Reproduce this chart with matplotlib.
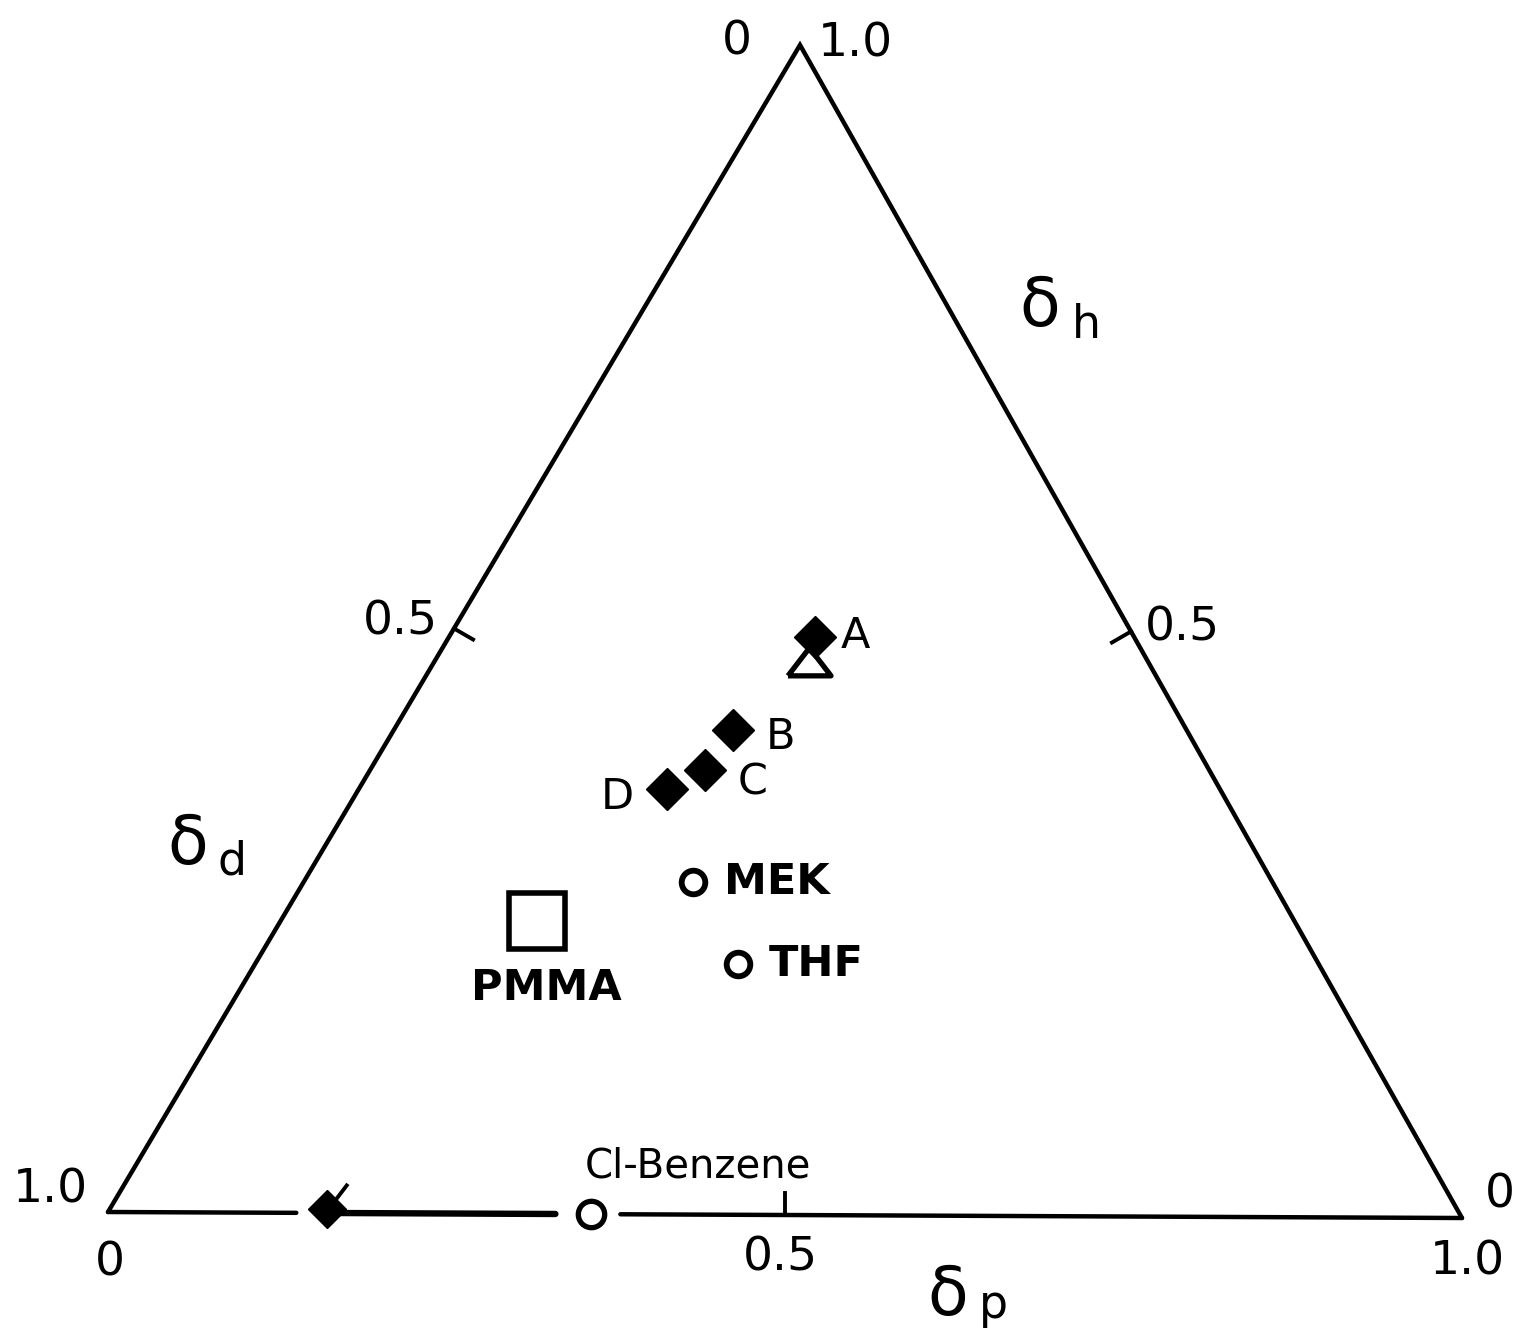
"""
Ternary diagram of fractional solubility parameters (delta_d, delta_p, delta_h)
for PMMA, solvents and blends A-D.
"""

import numpy as np
import matplotlib

matplotlib.use("Agg")
import matplotlib.pyplot as plt

BLACK = "black"
plt.rcParams["font.family"] = ["DejaVu Sans"]

# ---- data: fractional parameters (fd, fp, fh) ---------------------------
blend_labels = ["A", "B", "C", "D"]
blend_fd = [0.236, 0.336, 0.373, 0.409]
blend_fp = [0.270, 0.250, 0.247, 0.227]
blend_fh = [0.494, 0.414, 0.380, 0.364]

solvent_labels = ["MEK", "THF"]
solvent_fd = [0.429, 0.430]
solvent_fp = [0.287, 0.356]
solvent_fh = [0.284, 0.214]

pmma_fd, pmma_fp, pmma_fh = 0.561, 0.189, 0.250
target_fd, target_fp, target_fh = 0.251, 0.276, 0.473      # open triangle

clbenz_fd, clbenz_fp, clbenz_fh = 0.643, 0.357, 0.0
shifted_fd, shifted_fp, shifted_fh = 0.837, 0.160, 0.003   # arrow end

tick_value = 0.5

# corners of the (slightly skewed) printed triangle, in figure pixels
V_D = np.array([108.0, 1212.0])
V_P = np.array([1462.0, 1218.0])
V_H = np.array([800.0, 45.0])


def tern(fd, fp, fh):
    fd, fp, fh = (np.asarray(v, dtype=float) for v in (fd, fp, fh))
    s = fd + fp + fh
    x = (fd * V_D[0] + fp * V_P[0] + fh * V_H[0]) / s
    y = (fd * V_D[1] + fp * V_P[1] + fh * V_H[1]) / s
    return x, y


def main():
    fig = plt.figure(figsize=(15.22, 13.30), dpi=100)
    ax = fig.add_axes([0, 0, 1, 1])
    ax.set_xlim(0, 1522)
    ax.set_ylim(1330, 0)
    ax.set_aspect("equal")
    ax.axis("off")

    lw = 3.2
    # left and right sides
    ax.plot([V_D[0], V_H[0], V_P[0]], [V_D[1], V_H[1], V_P[1]], color=BLACK, lw=lw,
            solid_joinstyle="miter", solid_capstyle="round")

    # bottom side, broken around the Cl-benzene circle and shifted point
    xs, ys = tern(shifted_fd, shifted_fp, 0)
    xc, yc = tern(clbenz_fd, clbenz_fp, clbenz_fh)
    slope = (V_P[1] - V_D[1]) / (V_P[0] - V_D[0])
    base = lambda x: V_D[1] + slope * (x - V_D[0])
    for x0, x1, w in [(V_D[0], xs - 29, lw), (xs, xc - 36, lw + 1.4), (xc + 29, V_P[0], lw)]:
        ax.plot([x0, x1], [base(x0), base(x1)], color=BLACK, lw=w, solid_capstyle="round")

    # 0.5 ticks, pointing inward
    tl = 22
    for a, b, c in [(tick_value, 0, 1 - tick_value),
                    (0, 1 - tick_value, tick_value),
                    (1 - tick_value, tick_value, 0)]:
        px, py = tern(a, b, c)
        cx_, cy_ = tern(1, 1, 1)
        d = np.array([cx_ - px, cy_ - py])
        # inward direction perpendicular to the side
        if c == 0:
            n = np.array([0.0, -1.0])
        elif a == 0:
            n = np.array([-0.866, 0.5])
        else:
            n = np.array([0.866, 0.5])
        ax.plot([px, px + n[0] * tl], [py, py + n[1] * tl], color=BLACK, lw=lw - 0.4)

    # ---- markers -------------------------------------------------------
    tx, ty = tern(target_fd, target_fp, target_fh)
    flat_tri = [(-1, -0.62), (1, -0.62), (0, 0.68), (-1, -0.62)]
    ax.plot(tx, ty, marker=flat_tri, ms=31, mfc="white", mec=BLACK, mew=3.8,
            ls="none", zorder=4)

    bx, by = tern(blend_fd, blend_fp, blend_fh)
    ax.plot(bx, by, marker="D", ms=21, color=BLACK, ls="none", zorder=5)
    offsets = {"A": (29, 1), "B": (34, -5), "C": (34, -9), "D": (-36, -6)}
    for lab, x, y in zip(blend_labels, bx, by):
        ax.annotate(lab, (x, y), xytext=offsets[lab], textcoords="offset points",
                    ha="center", va="center", fontsize=31)

    sx, sy = tern(solvent_fd, solvent_fp, solvent_fh)
    ax.plot(sx, sy, marker="o", ms=17, mfc="white", mec=BLACK, mew=4.2,
            ls="none", zorder=5)
    for lab, x, y in zip(solvent_labels, sx, sy):
        ax.annotate(lab, (x, y), xytext=(22, 0), textcoords="offset points",
                    ha="left", va="center", fontsize=31, fontweight="bold")

    px_, py_ = tern(pmma_fd, pmma_fp, pmma_fh)
    ax.plot(px_, py_, marker="s", ms=40, mfc="white", mec=BLACK, mew=4.0,
            ls="none", zorder=5)
    ax.annotate("PMMA", (px_, py_), xytext=(7, -48), textcoords="offset points",
                ha="center", va="center", fontsize=31, fontweight="bold")

    cx, cy = tern(clbenz_fd, clbenz_fp, clbenz_fh)
    ax.plot(cx, cy, marker="o", ms=19, mfc="white", mec=BLACK, mew=3.8,
            ls="none", zorder=5)
    ax.annotate("Cl-Benzene", (cx, cy), xytext=(77, 34), textcoords="offset points",
                ha="center", va="center", fontsize=29)

    sx2, sy2 = tern(shifted_fd, shifted_fp, shifted_fh)
    ax.plot(sx2, sy2, marker="D", ms=19, color=BLACK, ls="none", zorder=5)
    # single arrow barb on the shifted point
    ax.plot([sx2 + 7, sx2 + 20], [sy2 - 7, sy2 - 24], color=BLACK, lw=2.8, zorder=5)

    # ---- scale labels ----------------------------------------------------
    fs = 34
    for s, x, y in [("0", 737, 42), ("1.0", 855, 44),
                    ("0.5", 400, 622), ("0.5", 1182, 628),
                    ("1.0", 50, 1190), ("0", 110, 1263),
                    ("0.5", 780, 1258), ("1.0", 1467, 1262),
                    ("0", 1500, 1195)]:
        ax.text(x, y, s, ha="center", va="center", fontsize=fs)

    # axis titles: delta with subscript letter
    for sub, (x, y), (xs_, ys_) in [("h", (1040, 307), (1086, 325)),
                                    ("d", (188, 845), (232, 862)),
                                    ("p", (948, 1296), (993, 1305))]:
        ax.text(x, y, "δ", ha="center", va="center", fontsize=48)
        ax.text(xs_, ys_, sub, ha="center", va="center", fontsize=33)

    fig.savefig("out.png", dpi=100, facecolor="white")


if __name__ == "__main__":
    main()
